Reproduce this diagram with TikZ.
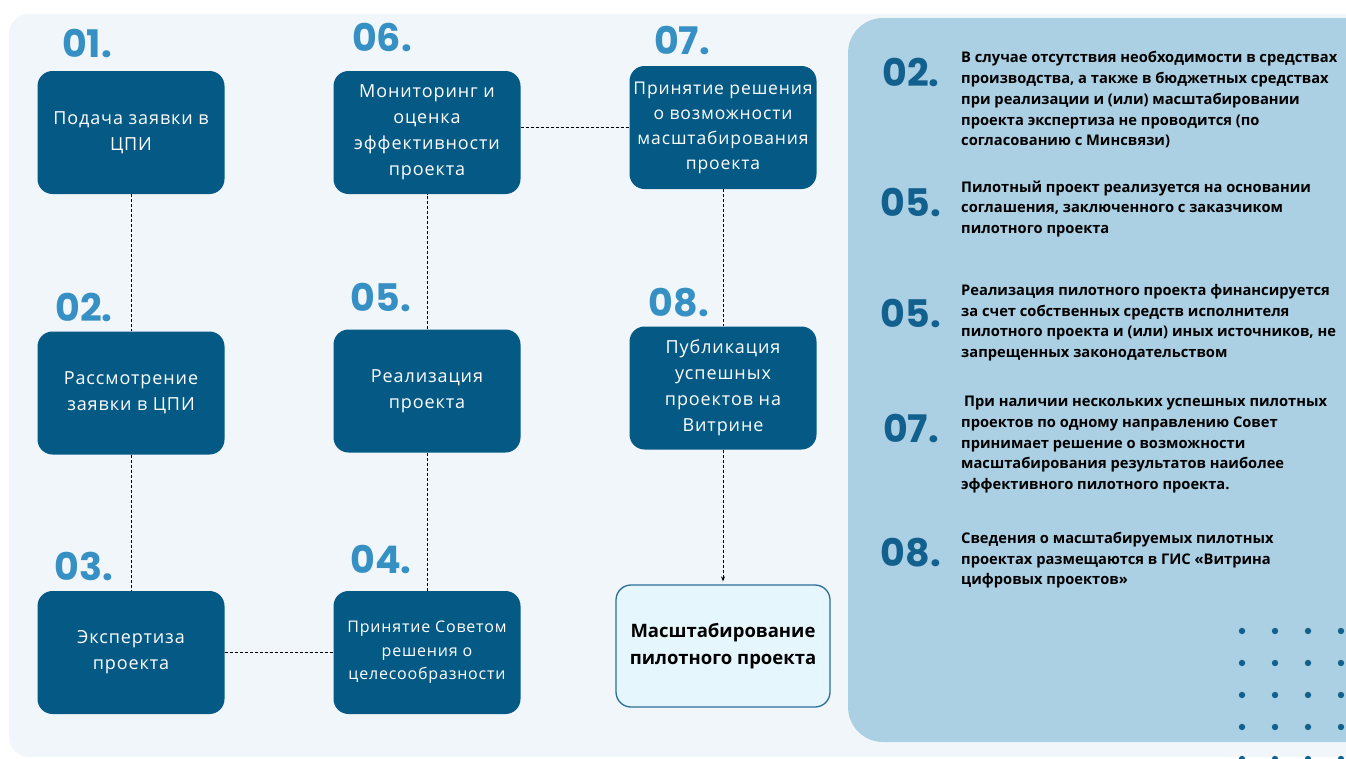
\documentclass[tikz,border=0pt]{standalone}
\usepackage{fontspec}
\setmainfont{Open Sans}
\newfontfamily\numfont{Poppins}
\newfontfamily\stepfont[LetterSpace=5]{Open Sans}
\usetikzlibrary{
arrows.meta,
positioning
}
\definecolor{boxblue}{HTML}{045A85}
\definecolor{numblue}{HTML}{3690C3}
\definecolor{numdark}{HTML}{11608E}
\definecolor{panelbg}{HTML}{F1F6FA}
\definecolor{sidebg}{HTML}{ABCFE3}
\definecolor{finalbg}{HTML}{E6F6FD}
\definecolor{finaledge}{HTML}{2B6E97}

\begin{document}
\begin{tikzpicture}[
x=1pt, y=-1pt,
stepbox/.style={
fill=boxblue,
rounded corners=15pt,
text=white,
align=center,
minimum width=187pt,
minimum height=123pt,
inner sep=0pt,
font=\stepfont\fontsize{18}{26}\selectfont
},
finalbox/.style={
draw=finaledge,
line width=1.3pt,
fill=finalbg,
rounded corners=15pt,
align=center,
minimum width=214pt,
minimum height=122pt,
inner sep=0pt,
font=\bfseries\fontsize{18.5}{27}\selectfont
},
numlbl/.style={text=numblue, inner sep=0pt, font=\numfont\bfseries\fontsize{38}{38}\selectfont},
sidenum/.style={numlbl, text=numdark},
notetext/.style={anchor=north west, inner sep=0pt, align=left, font=\bfseries\fontsize{14.7}{20.7}\selectfont},
link/.style={draw, dash pattern=on 3pt off 2pt, line width=0.9pt}
]
\useasboundingbox (0,0) rectangle (1346,758);

% backgrounds
\begin{scope}
\clip (0,0) rectangle (1346,758);
\fill[panelbg, rounded corners=20pt] (9,14) rectangle (1400,757);
\fill[sidebg, rounded corners=35pt] (848,18) rectangle (1400,742);
\foreach \dx in {0,...,3}
  \foreach \dy in {0,...,4}
    \fill[numdark] (1242+33*\dx, 631+32*\dy) circle (3.2pt);
\end{scope}

% steps
\node[stepbox] (zayavka) at (131,132.5) {Подача заявки в\\ЦПИ};
\node[stepbox] (rassmotr) at (131,393) {Рассмотрение\\заявки в ЦПИ};
\node[stepbox] (ekspert) at (131,652.5) {Экспертиза\\проекта};
\node[stepbox, font=\stepfont\fontsize{16}{23.5}\selectfont] (sovet) at (427,652.5) {Принятие Советом\\решения о\\целесообразности};
\node[stepbox] (realiz) at (427,391) {Реализация\\проекта};
\node[stepbox] (monitor) at (427,132.5) {Мониторинг и\\оценка\\эффективности\\проекта};
\node[stepbox, font=\stepfont\fontsize{17.5}{25}\selectfont] (reshenie) at (723,127.5) {Принятие решения\\о возможности\\масштабирования\\проекта};
\node[stepbox] (publik) at (723,388) {Публикация\\успешных\\проектов на\\Витрине};
\node[finalbox] (masshtab) at (723,646) {Масштабирование\\пилотного проекта};

% step numbers
\node[numlbl] (n1) at (87,43) {01.};
\node[numlbl] (n2) at (84,307) {02.};
\node[numlbl] (n3) at (84,566) {03.};
\node[numlbl] (n4) at (381,559) {04.};
\node[numlbl] (n5) at (381,297) {05.};
\node[numlbl] (n6) at (382,37) {06.};
\node[numlbl] (n7) at (682,40) {07.};
\node[numlbl] (n8) at (679,303) {08.};

% links
\draw[link] (zayavka) -- (rassmotr);
\draw[link] (rassmotr) -- (ekspert);
\draw[link] (ekspert) -- (sovet);
\draw[link] (sovet) -- (realiz);
\draw[link] (realiz) -- (monitor);
\draw[link] (reshenie.west -| monitor.east) -- (reshenie.west);
\draw[link] (reshenie) -- (publik);
\draw[link, -{Stealth[length=5pt,width=4pt]}, shorten >=3pt] (publik) -- (masshtab);

% notes on the right
\node[sidenum] (s2) at (911,72) {02.};
\node[notetext] (t2) at (961,51.5) {В случае отсутствия необходимости в средствах\\производства, а также в бюджетных средствах\\при реализации и (или) масштабировании\\проекта экспертиза не проводится (по\\согласованию с Минсвязи)};
\node[sidenum] (s5a) at (911,202) {05.};
\node[notetext] (t5a) at (961,180.5) {Пилотный проект реализуется на основании\\соглашения, заключенного с заказчиком\\пилотного проекта};
\node[sidenum] (s5b) at (911,313) {05.};
\node[notetext] (t5b) at (961,284) {Реализация пилотного проекта финансируется\\за счет собственных средств исполнителя\\пилотного проекта и (или) иных источников, не\\запрещенных законодательством};
\node[sidenum] (s7) at (911,428) {07.};
\node[notetext] (t7) at (961,396) {\hspace{3pt}При наличии нескольких успешных пилотных\\проектов по одному направлению Совет\\принимает решение о возможности\\масштабирования результатов наиболее\\эффективного пилотного проекта.};
\node[sidenum] (s8) at (911,553) {08.};
\node[notetext] (t8) at (961,532) {Сведения о масштабируемых пилотных\\проектах размещаются в ГИС «Витрина\\цифровых проектов»};

\end{tikzpicture}
\end{document}
